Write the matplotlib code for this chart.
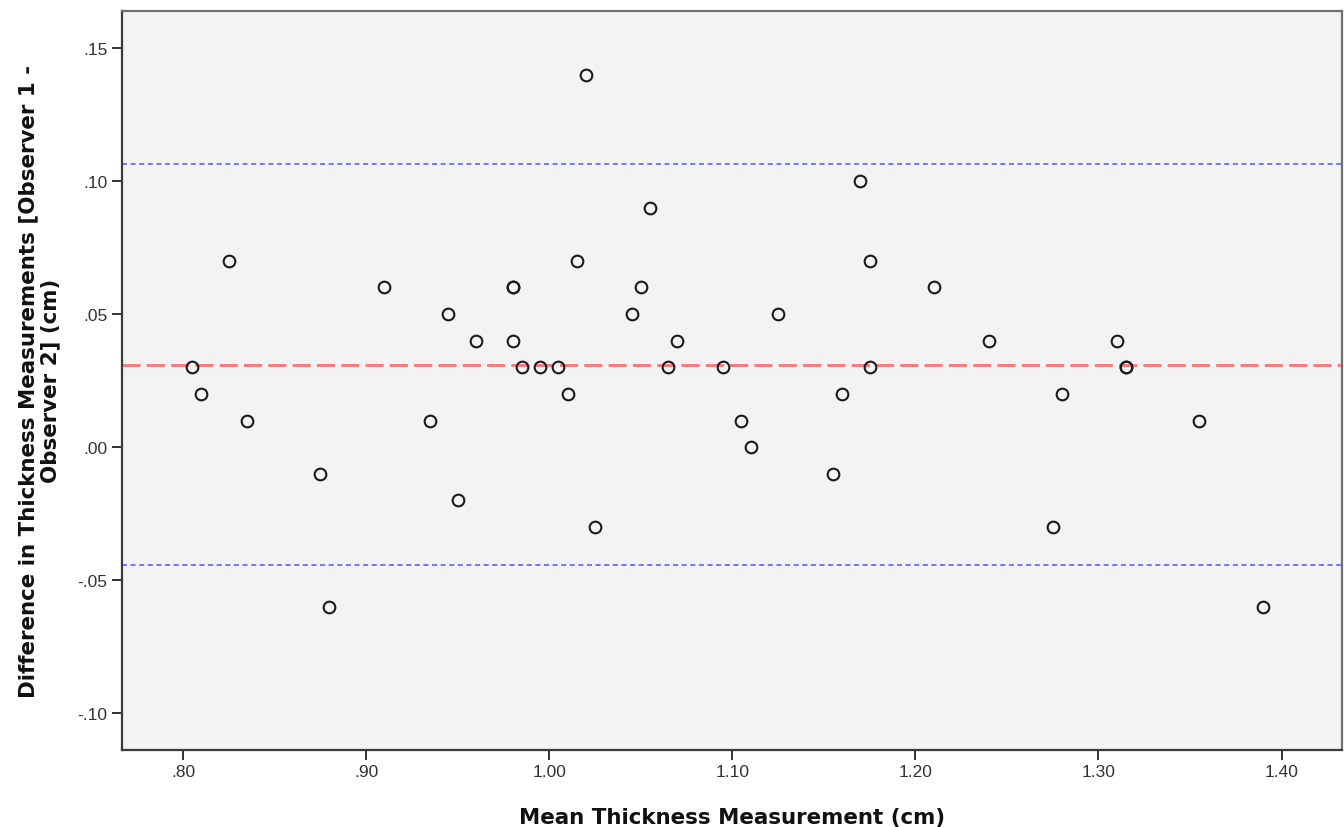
import matplotlib
matplotlib.use("Agg")
import matplotlib.pyplot as plt
import numpy as np

# Mean thickness (cm) and difference Observer1 - Observer2 (cm)
mean_thickness = [0.805, 0.81, 0.825, 0.835, 0.875, 0.88, 0.91, 0.935, 0.945, 0.95,
                  0.96, 0.98, 0.98, 0.98, 0.985, 0.995, 1.005, 1.01, 1.015, 1.02,
                  1.025, 1.045, 1.05, 1.055, 1.065, 1.07, 1.095, 1.105, 1.11, 1.125,
                  1.155, 1.16, 1.17, 1.175, 1.175, 1.21, 1.24, 1.275, 1.28, 1.31,
                  1.315, 1.315, 1.355, 1.39]
difference = [0.03, 0.02, 0.07, 0.01, -0.01, -0.06, 0.06, 0.01, 0.05, -0.02,
              0.04, 0.06, 0.06, 0.04, 0.03, 0.03, 0.03, 0.02, 0.07, 0.14,
              -0.03, 0.05, 0.06, 0.09, 0.03, 0.04, 0.03, 0.01, 0.00, 0.05,
              -0.01, 0.02, 0.10, 0.07, 0.03, 0.06, 0.04, -0.03, 0.02, 0.04,
              0.03, 0.03, 0.01, -0.06]

x_ticks = [0.80, 0.90, 1.00, 1.10, 1.20, 1.30, 1.40]
x_ticklabels = [".80", ".90", "1.00", "1.10", "1.20", "1.30", "1.40"]
y_ticks = [-0.10, -0.05, 0.00, 0.05, 0.10, 0.15]
y_ticklabels = ["-.10", "-.05", ".00", ".05", ".10", ".15"]

d = np.array(difference)
bias = d.mean()
sd = d.std(ddof=1)
upper = bias + 1.96 * sd
lower = bias - 1.96 * sd

plt.rcParams['lines.scale_dashes'] = False

fig = plt.figure(figsize=(13.44, 8.28), dpi=100)
ax = fig.add_axes([0.0908, 0.0934, 0.9077, 0.8921])
ax.set_facecolor("#f3f3f3")

ax.axhline(upper, color="#6b6bff", lw=1.3, dashes=(3.6, 2.6), zorder=2)
ax.axhline(lower, color="#6b6bff", lw=1.3, dashes=(3.6, 2.6), zorder=2)
ax.axhline(bias, color="#ff7272", lw=2.0, dashes=(13, 4.5), zorder=2)

ax.plot(mean_thickness, difference, linestyle="none", marker="o", markersize=8.4,
        markerfacecolor="none", markeredgecolor="#1a1a1a", markeredgewidth=1.5, zorder=3)

ax.set_xlim(0.7667, 1.433)
ax.set_ylim(-0.1137, 0.1639)
ax.set_xticks(x_ticks)
ax.set_xticklabels(x_ticklabels)
ax.set_yticks(y_ticks)
ax.set_yticklabels(y_ticklabels)

for sp in ax.spines.values():
    sp.set_color("#3a3a3a")
    sp.set_linewidth(1.6)
ax.spines["top"].set_color("#707070")
ax.spines["right"].set_color("#707070")

ax.tick_params(axis="both", direction="out", length=7.5, width=1.4, color="#333333",
               labelsize=12.5, labelcolor="#333333", pad=3)
for lab in ax.get_xticklabels() + ax.get_yticklabels():
    lab.set_family("Liberation Sans")

ax.set_xlabel("Mean Thickness Measurement (cm)", fontsize=15.4, fontweight="bold",
              family="DejaVu Sans", labelpad=20, color="#111111")
ax.set_ylabel("Difference in Thickness Measurements [Observer 1 -\nObserver 2] (cm)",
              fontsize=15.4, fontweight="bold", family="DejaVu Sans", labelpad=12,
              color="#111111", linespacing=1.15)

fig.savefig("out.png", dpi=100, facecolor="white")
